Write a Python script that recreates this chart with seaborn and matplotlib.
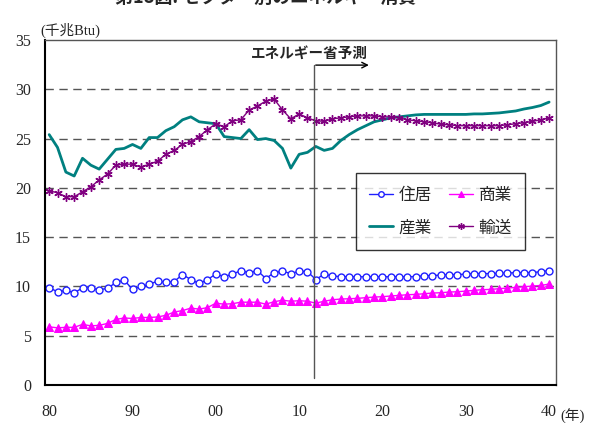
import matplotlib
matplotlib.use("Agg")
import matplotlib.pyplot as plt
import numpy as np
import pandas as pd
import seaborn as sns

years = list(range(1980, 2041))

residential = [
    9.87, 9.46, 9.6, 9.36, 9.84, 9.84, 9.67, 9.8, 10.4, 10.65,
    9.7, 10.0, 10.2, 10.55, 10.4, 10.5, 11.2, 10.7, 10.3, 10.7,
    11.25, 11.0, 11.25, 11.6, 11.4, 11.6, 10.8, 11.4, 11.55, 11.3,
    11.55, 11.5, 10.7, 11.25, 11.05, 11.0, 10.98, 10.98, 10.98, 10.98,
    10.98, 10.98, 10.98, 10.98, 11.0, 11.08, 11.1, 11.15, 11.2, 11.2,
    11.25, 11.3, 11.3, 11.3, 11.33, 11.35, 11.4, 11.4, 11.4, 11.5,
    11.6,
]
commercial = [
    5.9, 5.8, 5.85, 5.85, 6.15, 6.0, 6.05, 6.25, 6.65, 6.8,
    6.75, 6.85, 6.85, 6.9, 7.07, 7.4, 7.55, 7.8, 7.7, 7.85,
    8.3, 8.2, 8.25, 8.4, 8.4, 8.4, 8.2, 8.45, 8.6, 8.5,
    8.55, 8.5, 8.3, 8.5, 8.65, 8.72, 8.75, 8.79, 8.86, 8.92,
    8.96, 9.03, 9.09, 9.16, 9.19, 9.26, 9.33, 9.36, 9.43, 9.46,
    9.53, 9.6, 9.67, 9.7, 9.77, 9.84, 9.9, 9.97, 10.04, 10.1,
    10.24,
]
industrial = [
    25.4, 24.1, 21.6, 21.2, 23.0, 22.3, 21.9, 22.9, 23.9, 24.0,
    24.4, 24.0, 25.1, 25.1, 25.8, 26.2, 26.9, 27.2, 26.7, 26.6,
    26.5, 25.2, 25.1, 25.0, 25.9, 24.9, 25.0, 24.8, 24.0, 22.0,
    23.4, 23.6, 24.2, 23.8, 24.0, 24.8, 25.4, 25.9, 26.3, 26.7,
    26.9, 27.1, 27.2, 27.3, 27.4, 27.45, 27.45, 27.45, 27.45, 27.45,
    27.45, 27.5, 27.5, 27.55, 27.6, 27.7, 27.8, 28.0, 28.15, 28.35,
    28.7,
]
transport = [
    19.7, 19.5, 19.1, 19.1, 19.6, 20.1, 20.8, 21.4, 22.3, 22.4,
    22.4, 22.1, 22.4, 22.7, 23.4, 23.8, 24.4, 24.7, 25.2, 25.9,
    26.5, 26.2, 26.8, 26.9, 27.9, 28.3, 28.8, 29.0, 27.9, 27.0,
    27.5, 27.1, 26.8, 26.75, 27.0, 27.1, 27.2, 27.3, 27.3, 27.3,
    27.2, 27.2, 27.1, 26.9, 26.8, 26.7, 26.6, 26.45, 26.4, 26.3,
    26.3, 26.3, 26.3, 26.3, 26.3, 26.4, 26.5, 26.6, 26.75, 26.9,
    27.1,
]

forecast_start = 2011.76
y_ticks = [0, 5, 10, 15, 20, 25, 30, 35]
x_labels = ["80", "90", "00", "10", "20", "30", "40"]

df = pd.DataFrame({
    "year": years,
    "住居": residential,
    "商業": commercial,
    "産業": industrial,
    "輸送": transport,
})

sns.set_style("white")
plt.rcParams["font.family"] = ["Liberation Serif", "Noto Sans CJK JP"]
jp = ["Noto Sans CJK JP", "DejaVu Sans"]

fig = plt.figure(figsize=(5.9, 4.23), dpi=100)
ax = fig.add_axes([0.0763, 0.0898, 0.8657, 0.8157])

sns.lineplot(data=df, x="year", y="住居", ax=ax, color="#1f1fff", linewidth=1,
             marker="o", markersize=5, markerfacecolor="white",
             markeredgecolor="#1f1fff", markeredgewidth=1, label="住居")
sns.lineplot(data=df, x="year", y="商業", ax=ax, color="#ff00ff", linewidth=1,
             marker="^", markersize=5.5, markerfacecolor="#ff00ff",
             markeredgecolor="#ff00ff", label="商業")
sns.lineplot(data=df, x="year", y="産業", ax=ax, color="#008080", linewidth=2,
             label="産業")
sns.lineplot(data=df, x="year", y="輸送", ax=ax, color="#800080", linewidth=1,
             marker=(6, 2, 0), markersize=6, markeredgewidth=1,
             markeredgecolor="#800080", label="輸送")

ax.set_xlim(1979.5, 2040.8)
ax.set_ylim(0, 35)
ax.set_yticks(y_ticks)
ax.set_yticklabels([str(v) for v in y_ticks], fontsize=11.5)
ax.set_xticks([1980, 1990, 2000, 2010, 2020, 2030, 2040])
ax.set_xticklabels(x_labels, fontsize=11.5)
ax.set_xticks(np.arange(1979.5, 2041, 10), minor=True)
ax.tick_params(axis="x", which="major", length=0, pad=14)
ax.tick_params(axis="x", which="minor", direction="in", length=5, width=1)
ax.tick_params(axis="y", direction="in", length=0, pad=10)
ax.set_xlabel("")
ax.set_ylabel("")

for v in y_ticks[1:-1]:
    ax.axhline(v, color="#555555", linestyle=(0, (6, 4)), linewidth=1, zorder=0)

ax.spines["left"].set_color("black")
ax.spines["left"].set_linewidth(1.5)
ax.spines["bottom"].set_color("black")
ax.spines["bottom"].set_linewidth(1.5)
ax.spines["top"].set_color("#555555")
ax.spines["top"].set_linewidth(1)
ax.spines["right"].set_color("#555555")
ax.spines["right"].set_linewidth(1)

# forecast marker
ax.plot([forecast_start, forecast_start], [0.7, 32.45], color="#555555", linewidth=1)
ax.annotate("", xy=(2018.7, 32.45), xytext=(forecast_start - 0.1, 32.45),
            arrowprops=dict(arrowstyle="->", color="black", lw=1))
ax.text(2011.2, 33.7, "エネルギー省予測", ha="center", va="center",
        fontsize=10.5, fontweight="bold", family=jp)

# row-wise legend: 住居 商業 / 産業 輸送
handles, labels = ax.get_legend_handles_labels()
order = [labels.index(n) for n in ["住居", "産業", "商業", "輸送"]]
leg = ax.legend([handles[i] for i in order], [labels[i] for i in order],
                loc="upper left", bbox_to_anchor=(0.609, 0.614), ncol=2,
                borderaxespad=0, frameon=True, fancybox=False,
                prop={"family": jp, "size": 12}, handlelength=1.4,
                labelspacing=0.95, columnspacing=1.05, borderpad=0.8,
                handletextpad=0.35, markerscale=0.8)
leg.get_frame().set_edgecolor("black")
leg.get_frame().set_linewidth(1)

fig.text(0.068, 0.929, "(千兆Btu)", fontsize=10.5, ha="left", va="center")
fig.text(0.95, 0.016, "(年)", fontsize=10.5, ha="left", va="center")
fig.text(0.45, 1.006, "第18図: セクター別のエネルギー消費", fontsize=13,
         fontweight="bold", ha="center", va="center", family=jp)

fig.savefig("out.png", dpi=100)
